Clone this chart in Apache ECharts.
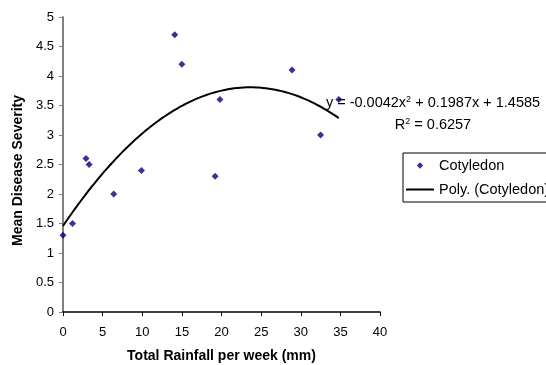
<!DOCTYPE html>
<html>
<head>
<meta charset="utf-8">
<script src="https://cdn.jsdelivr.net/npm/echarts@6/dist/echarts.min.js"></script>
<style>
  html, body { margin: 0; padding: 0; background: #fff; }
  #chart { width: 546px; height: 365px; }
</style>
</head>
<body>
<div id="chart"></div>
<script>
// rainfall (mm/week) vs mean disease severity
var rainfall = [0, 1.2, 2.9, 3.3, 6.4, 9.9, 14.1, 15.0, 19.2, 19.8, 28.9, 32.5, 34.8];
var severity = [1.3, 1.5, 2.6, 2.5, 2.0, 2.4, 4.7, 4.2, 2.3, 3.6, 4.1, 3.0, 3.6];
// trendline coefficients as printed on the chart (a, b, c for ax^2 + bx + c)
var polyCoef = [-0.0042, 0.1987, 1.4585];
var trendRange = [0, 34.8];
var xTicks = [0, 5, 10, 15, 20, 25, 30, 35, 40];
var yTicks = [0, 0.5, 1, 1.5, 2, 2.5, 3, 3.5, 4, 4.5, 5];

var pts = rainfall.map(function (x, i) { return [x, severity[i]]; });

var trend = [];
for (var x = trendRange[0]; x <= trendRange[1] + 1e-9; x += 0.4) {
    trend.push([x, polyCoef[0] * x * x + polyCoef[1] * x + polyCoef[2]]);
}

var font = 'Arial, "Liberation Sans", sans-serif';
var chart = echarts.init(document.getElementById('chart'), null, { renderer: 'canvas' });

var option = {
    animation: false,
    grid: { left: 63, right: 166, top: 17, bottom: 53, outerBoundsMode: 'none', containLabel: false },
    xAxis: {
        type: 'value',
        min: xTicks[0],
        max: xTicks[xTicks.length - 1],
        interval: 5,
        name: 'Total Rainfall per week (mm)',
        nameLocation: 'middle',
        nameGap: 37,
        nameTextStyle: { fontFamily: font, fontSize: 14, fontWeight: 'bold', color: '#000' },
        axisLine: { lineStyle: { color: '#000', width: 1.5 } },
        axisTick: { show: true, length: 4, lineStyle: { color: '#000' } },
        axisLabel: { fontFamily: font, fontSize: 13, color: '#000', margin: 14 },
        splitLine: { show: false }
    },
    yAxis: {
        type: 'value',
        min: yTicks[0],
        max: yTicks[yTicks.length - 1],
        interval: 0.5,
        name: 'Mean Disease Severity',
        nameLocation: 'middle',
        nameGap: 38,
        nameTextStyle: { fontFamily: font, fontSize: 14, fontWeight: 'bold', color: '#000', padding: [0, 12, 0, 0] },
        axisLine: { show: true, lineStyle: { color: '#808080', width: 2 } },
        axisTick: { show: true, length: 4, lineStyle: { color: '#808080' } },
        axisLabel: { fontFamily: font, fontSize: 13, color: '#000', margin: 9 },
        splitLine: { show: false }
    },
    legend: {
        orient: 'vertical',
        left: 403,
        top: 153,
        padding: [5, 14, 5, 3],
        itemGap: 9,
        itemWidth: 28,
        itemHeight: 14,
        borderColor: '#000',
        borderWidth: 1,
        backgroundColor: '#fff',
        textStyle: { fontFamily: font, fontSize: 14.5, color: '#000' },
        data: [
            { name: 'Cotyledon', icon: 'path://M0,0 M28,14 M14,3.8 L17.2,7 L14,10.2 L10.8,7 Z' },
            { name: 'Poly. (Cotyledon)', icon: 'path://M0,0 M28,14 M0,6 L28,6 L28,8 L0,8 Z' }
        ]
    },
    graphic: [
        {
            type: 'text',
            x: 433,
            y: 103,
            style: {
                text: 'y = -0.0042x{s|2} + 0.1987x + 1.4585',
                font: '14.5px ' + font,
                fill: '#000',
                align: 'center',
                verticalAlign: 'middle',
                rich: { s: { fontSize: 9, verticalAlign: 'top', padding: [0, 0, 7, 0] } }
            }
        },
        {
            type: 'text',
            x: 433,
            y: 125,
            style: {
                text: 'R{s|2} = 0.6257',
                font: '14.5px ' + font,
                fill: '#000',
                align: 'center',
                verticalAlign: 'middle',
                rich: { s: { fontSize: 9, verticalAlign: 'top', padding: [0, 0, 7, 0] } }
            }
        }
    ],
    series: [
        {
            name: 'Cotyledon',
            type: 'scatter',
            symbol: 'diamond',
            symbolSize: 7,
            itemStyle: { color: '#000080' },
            data: pts,
            z: 3
        },
        {
            name: 'Poly. (Cotyledon)',
            type: 'line',
            showSymbol: false,
            symbol: 'none',
            lineStyle: { color: '#000', width: 2 },
            itemStyle: { color: '#000' },
            data: trend,
            z: 2
        }
    ]
};

chart.setOption(option);
</script>
</body>
</html>
